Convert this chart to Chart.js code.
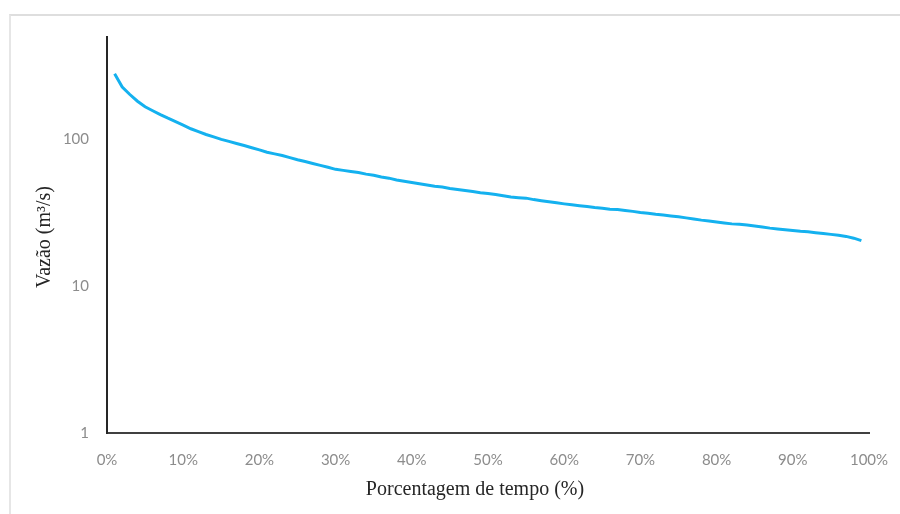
<!DOCTYPE html>
<html lang="pt">
<head>
<meta charset="utf-8">
<title>Curva de permanência</title>
<script src="https://cdn.jsdelivr.net/npm/chart.js@4.4.1/dist/chart.umd.min.js"></script>
<style>
  html, body { margin: 0; padding: 0; background: #fff; }
  #wrap { position: relative; width: 900px; height: 514px; overflow: hidden; }
  #frame { position: absolute; left: 9px; top: 14px; width: 900px; height: 520px;
           border-top: 2px solid #dedede; border-left: 2px solid #e6e6e6; box-sizing: border-box; }
  canvas { position: absolute; left: 0; top: 0; }
</style>
</head>
<body>
<div id="wrap">
  <div id="frame"></div>
  <canvas id="c" width="900" height="514"></canvas>
</div>
<script>
// Percentage of time the flow is equalled or exceeded
const percentTime = [
   1,  2,  3,  4,  5,  6,  7,  8,  9, 10,
  11, 12, 13, 14, 15, 16, 17, 18, 19, 20,
  21, 22, 23, 24, 25, 26, 27, 28, 29, 30,
  31, 32, 33, 34, 35, 36, 37, 38, 39, 40,
  41, 42, 43, 44, 45, 46, 47, 48, 49, 50,
  51, 52, 53, 54, 55, 56, 57, 58, 59, 60,
  61, 62, 63, 64, 65, 66, 67, 68, 69, 70,
  71, 72, 73, 74, 75, 76, 77, 78, 79, 80,
  81, 82, 83, 84, 85, 86, 87, 88, 89, 90,
  91, 92, 93, 94, 95, 96, 97, 98, 99
];

// Flow (m³/s)
const flow = [
  277, 225, 200, 180, 165, 155, 146, 138, 131, 124,
  117, 112, 107, 103,  99,  96,  93,  90,  87,  84,
   81,  79,  77, 74.5,  72,  70,  68,  66,  64,  62,
   61,  60,  59, 57.5, 56.5, 55,  54, 52.5, 51.5, 50.5,
 49.5, 48.5, 47.5, 47,  46, 45.2, 44.5, 43.8, 43, 42.5,
 41.8, 41, 40.2, 39.8, 39.5, 38.6, 37.9, 37.3, 36.7, 36.1,
 35.6, 35.1, 34.6, 34.1, 33.7, 33.2, 33.0, 32.6, 32.1, 31.6,
 31.2, 30.7, 30.3, 29.9, 29.5, 29.0, 28.5, 28.0, 27.6, 27.2,
 26.8, 26.4, 26.2, 25.9, 25.5, 25.1, 24.7, 24.4, 24.1, 23.8,
 23.5, 23.3, 23.0, 22.7, 22.4, 22.1, 21.7, 21.1, 20.3
];

// Axis ticks
const xTicks = [0, 10, 20, 30, 40, 50, 60, 70, 80, 90, 100];
const yTicks = [1, 10, 100];

const xTitle = 'Porcentagem de tempo (%)';
const yTitle = 'Vazão (m³/s)';

const points = percentTime.map((p, i) => ({ x: p, y: flow[i] }));

// Axis captions in a serif face, placed relative to the plot area
const axisCaptions = {
  id: 'axisCaptions',
  afterDraw(chart) {
    const { ctx, chartArea } = chart;
    ctx.save();
    ctx.fillStyle = '#262626';
    ctx.font = '20px "Liberation Serif", "Times New Roman", serif';
    ctx.textAlign = 'center';
    ctx.textBaseline = 'middle';
    ctx.fillText(xTitle, chartArea.left + (chartArea.right - chartArea.left) / 2 - 13, 490);
    ctx.translate(45, (chartArea.top + chartArea.bottom) / 2 + 2);
    ctx.rotate(-Math.PI / 2);
    ctx.fillText(yTitle, 0, 0);
    ctx.restore();
  }
};

const tickFont = { family: 'Lato, "Open Sans", sans-serif', size: 15 };
const tickColor = '#8c8c8c';

new Chart(document.getElementById('c'), {
  type: 'line',
  data: {
    datasets: [{
      data: points,
      borderColor: '#14B1EF',
      borderWidth: 3,
      pointRadius: 0,
      tension: 0,
      fill: false
    }]
  },
  options: {
    responsive: false,
    animation: false,
    devicePixelRatio: 1,
    layout: { padding: { top: 37, right: 31, left: 0, bottom: 0 } },
    plugins: { legend: { display: false }, tooltip: { enabled: false } },
    scales: {
      x: {
        type: 'linear',
        min: 0,
        max: 100,
        grid: { display: false },
        border: { display: true, color: '#404040', width: 2 },
        afterBuildTicks: (s) => { s.ticks = xTicks.map(v => ({ value: v })); },
        afterFit: (s) => { s.height = 81; },
        ticks: {
          padding: 10,
          color: tickColor,
          font: tickFont,
          maxRotation: 0,
          callback: (v) => v + '%'
        }
      },
      y: {
        type: 'logarithmic',
        min: 1,
        max: 492,
        grid: { display: false },
        border: { display: true, color: '#262626', width: 2 },
        afterBuildTicks: (s) => { s.ticks = yTicks.map(v => ({ value: v })); },
        afterFit: (s) => { s.width = 107; },
        ticks: {
          padding: 10,
          color: tickColor,
          font: tickFont,
          callback: (v) => String(v)
        }
      }
    }
  },
  plugins: [axisCaptions]
});
</script>
</body>
</html>
